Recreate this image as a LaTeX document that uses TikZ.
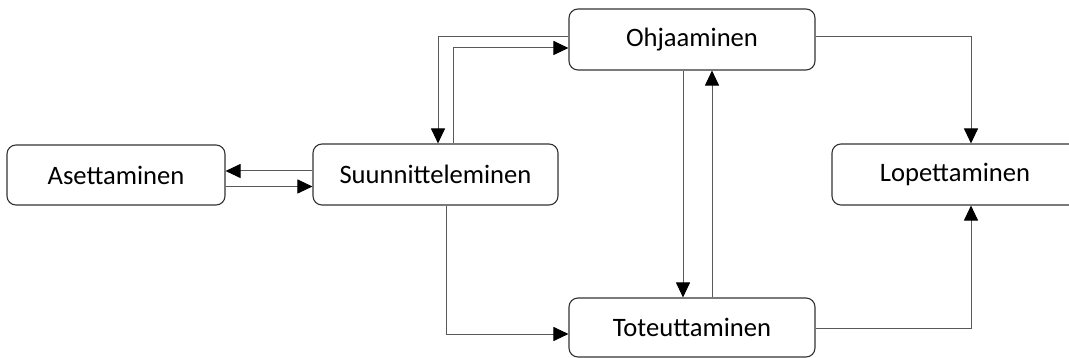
\documentclass[tikz,border=0pt]{standalone}
\usepackage{fontspec}
\setmainfont{Carlito}
\usetikzlibrary{arrows.meta}
\begin{document}
\begin{tikzpicture}[x=1pt,y=-1pt,
  phase/.style={draw=black!80, line width=1.1pt, rounded corners=9pt, fill=white,
    inner sep=0pt, minimum width=246pt, minimum height=61pt,
    font=\fontsize{26.6pt}{30pt}\selectfont, text=black},
  link/.style={draw=black!65, line width=1pt,
    -{Triangle[length=15pt,width=14pt,color=black]}}]
  \useasboundingbox (0,0) rectangle (1069,358);
  % phases
  \node[phase, minimum width=218pt, minimum height=60pt] (ase) at (116,175) {Asettaminen};
  \node[phase, minimum width=245pt] (suu) at (435.5,174.5) {Suunnitteleminen};
  \node[phase] (ohj) at (692,39.5) {Ohjaaminen};
  \node[phase, minimum height=59pt] (tot) at (692,327.5) {Toteuttaminen};
  \node[phase] (lop) at (955,174.5) {Lopettaminen};
  % connectors
  \draw[link] ([yshift=3.5pt]suu.west) -- ([yshift=3.5pt]suu.west -| ase.east);
  \draw[link] ([yshift=-11.5pt]ase.east) -- ([yshift=-11.5pt]ase.east -| suu.west);
  \draw[link] ([yshift=2.5pt]ohj.west) -| ([xshift=2.5pt]suu.north);
  \draw[link] ([xshift=17.5pt]suu.north) |- ([yshift=-8.5pt]ohj.west);
  \draw[link] ([xshift=10.5pt]suu.south) |- ([yshift=-6.5pt]tot.west);
  \draw[link] ([xshift=-9pt]ohj.south) -- ([xshift=-9pt]tot.north);
  \draw[link] ([xshift=20pt]tot.north) -- ([xshift=20pt]ohj.south);
  \draw[link] ([yshift=2.5pt]ohj.east) -| ([xshift=16pt]lop.north);
  \draw[link] ([yshift=-0.5pt]tot.east) -| ([xshift=16pt]lop.south);
\end{tikzpicture}
\end{document}
